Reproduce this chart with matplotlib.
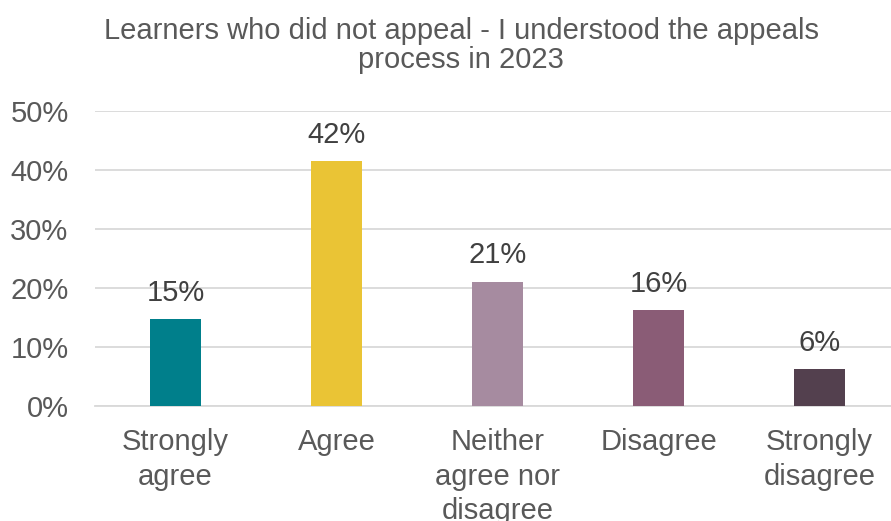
import numpy as np
import matplotlib.pyplot as plt
from matplotlib.ticker import FuncFormatter

categories = ['Strongly\nagree', 'Agree', 'Neither\nagree nor\ndisagree', 'Disagree', 'Strongly\ndisagree']
shares = [14.7, 41.6, 21.1, 16.3, 6.3]
bar_colors = ['#007F8B', '#EAC435', '#A68BA0', '#8A5C76', '#53404E']
yticks = [0, 10, 20, 30, 40, 50]

plt.rcParams['font.family'] = ['Liberation Sans', 'DejaVu Sans']

fig = plt.figure(figsize=(8.91, 5.21), dpi=100)
ax = fig.add_axes([95 / 891, 115 / 521, 805 / 891, 295 / 521])

x = np.arange(len(categories))
ax.bar(x, shares, width=0.32, color=bar_colors, zorder=3)

for xi, v in zip(x, shares):
    ax.annotate(f'{v:.0f}%', (xi, v), xytext=(0, 13), textcoords='offset points',
                ha='center', va='baseline', fontsize=21, color='#404040')

ax.set_xlim(-0.5, len(categories) - 0.5)
ax.set_ylim(0, 50)
ax.set_yticks(yticks)
ax.yaxis.set_major_formatter(FuncFormatter(lambda v, _: f'{v:.0f}%'))
ax.set_xticks(x)
ax.set_xticklabels(categories, linespacing=1.3)

ax.grid(axis='y', color='#D9D9D9', linewidth=1.3, zorder=0)
for side in ['top', 'right', 'left']:
    ax.spines[side].set_visible(False)
ax.spines['bottom'].set_color('#D9D9D9')
ax.spines['bottom'].set_linewidth(1.3)

ax.tick_params(axis='x', length=0, pad=16, labelsize=21, labelcolor='#595959')
ax.tick_params(axis='y', length=0, pad=19, labelsize=21, labelcolor='#595959')

# two-line title, anchored on the baseline of the second line
fig.text(461 / 891, 1 - 68 / 521,
         'Learners who did not appeal - I understood the appeals\nprocess in 2023',
         ha='center', va='baseline', fontsize=21, color='#595959', linespacing=1.03)

fig.savefig('out.png', dpi=100)
